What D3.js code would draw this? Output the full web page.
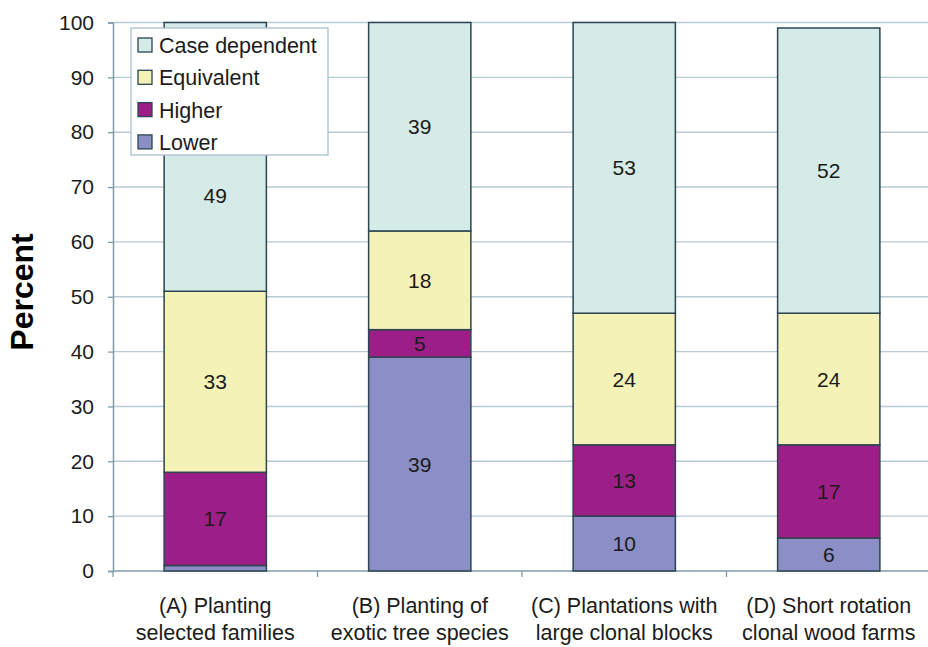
<!DOCTYPE html>
<html>
<head>
<meta charset="utf-8">
<script src="https://cdn.jsdelivr.net/npm/d3@7"></script>
<style>
  html, body { margin: 0; padding: 0; background: #ffffff; }
  svg { display: block; }
  text { font-family: "Liberation Sans", Arial, Helvetica, sans-serif; fill: #1b1b1b; }
</style>
</head>
<body>
<svg id="chart" width="928" height="647"></svg>
<script>
// Categories (two-line labels) and stacked series values, in percent
const categories = [
  ["(A) Planting", "selected families"],
  ["(B) Planting of", "exotic tree species"],
  ["(C) Plantations with", "large clonal blocks"],
  ["(D) Short rotation", "clonal wood farms"]
];
const seriesNames = ["Lower", "Higher", "Equivalent", "Case dependent"];
const lower         = [1, 39, 10, 6];
const higher        = [17, 5, 13, 17];
const equivalent    = [33, 18, 24, 24];
const caseDependent = [49, 39, 53, 52];
const yTicks = [0, 10, 20, 30, 40, 50, 60, 70, 80, 90, 100];

const colors = {
  "Lower": "#8b8fc6",
  "Higher": "#9b1f87",
  "Equivalent": "#f5f2b7",
  "Case dependent": "#d4ebe8"
};

const rows = categories.map((c, i) => ({
  key: i,
  "Lower": lower[i],
  "Higher": higher[i],
  "Equivalent": equivalent[i],
  "Case dependent": caseDependent[i]
}));

const svg = d3.select("#chart");
const plotLeft = 113, plotRight = 931, plotTop = 22.5, plotBottom = 571;

const x = d3.scaleBand().domain(d3.range(categories.length)).range([plotLeft, plotRight]).paddingInner(0.5).paddingOuter(0.25);
const xCat = d3.scaleBand().domain(d3.range(categories.length)).range([plotLeft, plotRight]);
const y = d3.scaleLinear().domain([0, 100]).range([plotBottom, plotTop]);

// Gridlines
svg.append("g").selectAll("line").data(yTicks.filter(t => t > 0)).join("line")
  .attr("x1", plotLeft).attr("x2", 928)
  .attr("y1", d => y(d)).attr("y2", d => y(d))
  .attr("stroke", "#b7cbd4").attr("stroke-width", 1.4);

// Y axis
const yAxis = svg.append("g").attr("transform", `translate(${plotLeft},0)`)
  .call(d3.axisLeft(y).tickValues(yTicks).tickSize(5).tickPadding(14));
yAxis.select(".domain").attr("stroke", "#7f9ba7").attr("stroke-width", 1.5);
yAxis.selectAll(".tick line").attr("stroke", "#7f9ba7").attr("stroke-width", 1.3);
yAxis.selectAll(".tick text").attr("font-size", 21).attr("fill", "#1b1b1b")
  .style("font-family", "'Liberation Sans', Arial, sans-serif");

// X axis baseline with ticks at category boundaries
svg.append("line").attr("x1", plotLeft).attr("x2", 928).attr("y1", plotBottom).attr("y2", plotBottom)
  .attr("stroke", "#7f9ba7").attr("stroke-width", 1.5);
svg.append("g").selectAll("line").data(d3.range(categories.length + 1)).join("line")
  .attr("x1", i => plotLeft + i * xCat.step()).attr("x2", i => plotLeft + i * xCat.step())
  .attr("y1", plotBottom).attr("y2", plotBottom + 6)
  .attr("stroke", "#7f9ba7").attr("stroke-width", 1.3);

// Category labels
const catG = svg.append("g").selectAll("text").data(categories).join("text")
  .attr("text-anchor", "middle").attr("font-size", 21.5)
  .attr("x", (d, i) => xCat(i) + xCat.bandwidth() / 2)
  .attr("y", 613);
catG.selectAll("tspan").data(d => d).join("tspan")
  .attr("x", function () { return d3.select(this.parentNode).attr("x"); })
  .attr("dy", (d, j) => j === 0 ? 0 : 27)
  .text(d => d);

// Y axis title
svg.append("text").attr("transform", "translate(33,292) rotate(-90)")
  .attr("text-anchor", "middle").attr("font-size", 32).attr("font-weight", "bold")
  .style("fill", "#000").text("Percent");

// Stacked bars
const stack = d3.stack().keys(seriesNames)(rows);
const barG = svg.append("g");
stack.forEach(layer => {
  barG.append("g").selectAll("rect").data(layer).join("rect")
    .attr("x", d => x(d.data.key))
    .attr("width", x.bandwidth())
    .attr("y", d => y(Math.min(d[1], 100)))
    .attr("height", d => y(d[0]) - y(Math.min(d[1], 100)))
    .attr("fill", colors[layer.key])
    .attr("stroke", "#2c4550").attr("stroke-width", 1.5);
});

// Legend
const legend = { x: 131, y: 28, w: 197, h: 127 };
const legendOrder = seriesNames.slice().reverse();
const lg = svg.append("g");
lg.append("rect").attr("x", legend.x).attr("y", legend.y).attr("width", legend.w).attr("height", legend.h)
  .attr("fill", "#ffffff").attr("stroke", "#a9c1cb").attr("stroke-width", 1.3);
legendOrder.forEach((name, i) => {
  const cy = 45 + i * 32.3;
  lg.append("rect").attr("x", 138).attr("y", cy - 7).attr("width", 14).attr("height", 14)
    .attr("fill", colors[name]).attr("stroke", "#2c4550").attr("stroke-width", 1.3);
  lg.append("text").attr("x", 159).attr("y", cy + 8).attr("font-size", 21.5).text(name);
});

// Value labels, centred in each segment; kept clear of the legend box
stack.forEach(layer => {
  layer.forEach(d => {
    const v = d.data[layer.key];
    if (v < 3) return;
    const cx = x(d.data.key) + x.bandwidth() / 2;
    let cy = (y(d[0]) + y(Math.min(d[1], 100))) / 2;
    const overLegend = cx - 20 < legend.x + legend.w && cy - 12 < legend.y + legend.h;
    if (overLegend) cy = legend.y + legend.h + 40;
    svg.append("text").attr("x", cx).attr("y", cy + 7.5)
      .attr("text-anchor", "middle").attr("font-size", 21).text(v);
  });
});
</script>
</body>
</html>
